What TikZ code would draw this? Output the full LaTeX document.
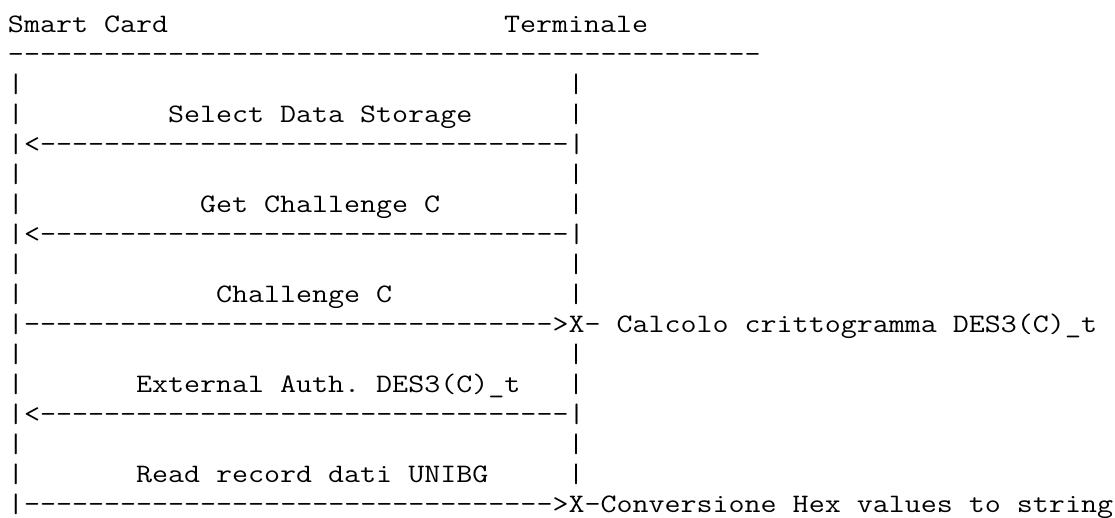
\documentclass[tikz,border=0pt]{standalone}
\usepackage{fontspec}
\newfontfamily\cour[Ligatures=TeXOff,FakeStretch=1.166]{Latin Modern Mono}
\frenchspacing
\newcommand\dsh[1]{\foreach\i in {1,...,#1}{-}}
\tikzset{
  txt/.style={anchor=base west, inner sep=0pt, outer sep=0pt,
    font=\cour\fontsize{26.67pt}{30pt}\selectfont, text=black}
}
\begin{document}
\begin{tikzpicture}[x=16pt,y=-30pt]
\useasboundingbox (0pt,0pt) rectangle (1115pt,-517pt);
\begin{scope}[shift={(0.5,0.0667)}]
  % header
  \node[txt] (sc) at (0,1) {Smart Card};
  \node[txt] (term) at (31,1) {Terminale};
  \node[txt] (rule) at (0,2) {\dsh{47}};
  % lifeline pipes
  \foreach \k in {3,4,6,7,9,10,12,13,15,16}{
    \node[txt] (l\k) at (0,\k) {|};
  }
  \foreach \k in {3,4,6,7,9,10,12,13,15,16}{
    \node[txt] (r\k) at (35,\k) {|};
  }
  % messages
  \node[txt] (m1) at (10,4) {Select Data Storage};
  \node[txt] (a1) at (0,5) {|<\dsh{33}|};
  \node[txt] (m2) at (12,7) {Get Challenge C};
  \node[txt] (a2) at (0,8) {|<\dsh{33}|};
  \node[txt] (m3) at (13,10) {Challenge C};
  \node[txt] (a3) at (0,11) {|\dsh{33}>X- Calcolo crittogramma DES3(C)\_t};
  \node[txt] (m4) at (8,13) {External Auth. DES3(C)\_t};
  \node[txt] (a4) at (0,14) {|<\dsh{33}|};
  \node[txt] (m5) at (8,16) {Read record dati UNIBG};
  \node[txt] (a5) at (0,17) {|\dsh{33}>X-Conversione Hex values to string};
\end{scope}
\end{tikzpicture}
\end{document}
